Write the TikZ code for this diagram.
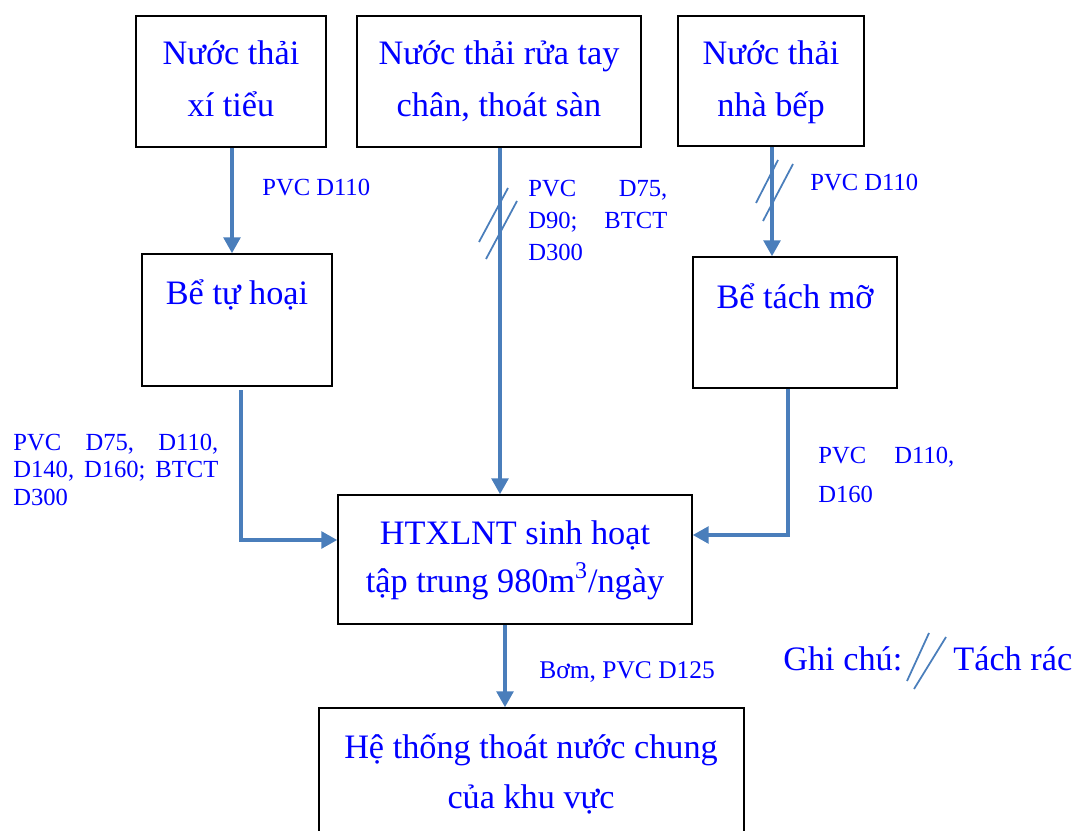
\documentclass[tikz,border=0pt]{standalone}
\usepackage{fontspec}
\setmainfont{Liberation Serif}
\usetikzlibrary{arrows.meta,fit}
\definecolor{pipec}{HTML}{4A7EBB}
\definecolor{txtc}{HTML}{0000FF}
\begin{document}
\begin{tikzpicture}[x=0.02cm,y=-0.02cm,
  box/.style={draw=black,line width=0.9pt,inner sep=0pt},
  big/.style={text=txtc,font=\fontsize{19.5}{29.6}\selectfont,align=center,inner sep=0pt,anchor=base},
  lab/.style={text=txtc,font=\fontsize{14}{18.2}\selectfont,inner sep=0pt,anchor=base west},
  pipeline/.style={draw=pipec,line width=1.9pt},
  arr/.style={pipeline,-{Triangle[length=9pt,width=9.5pt]}},
  slashln/.style={draw=pipec,line width=1pt}
]
\useasboundingbox (0,0) rectangle (1078,831);
\clip (0,0) rectangle (1078,831);

% boxes
\node[box, fit={(136,16) (326,147)}] (b1) {};
\node[box, fit={(357,16) (641,147)}] (b2) {};
\node[box, fit={(678,16) (864,146)}] (b3) {};
\node[box, fit={(142,254) (332,386)}] (b4) {};
\node[box, fit={(693,257) (897,388)}] (b5) {};
\node[box, fit={(338,495) (692,624)}] (b6) {};
\node[box, fit={(319,708) (744,850)}] (b7) {};

% box texts (base = last line)
\node[big] (t1) at (231,117) {Nước thải\\xí tiểu};
\node[big] (t2) at (499,117) {Nước thải rửa tay\\chân, thoát sàn};
\node[big] (t3) at (771,117) {Nước thải\\nhà bếp};
\node[big] (t4) at (237,304) {Bể tự hoại};
\node[big] (t5) at (795,308) {Bể tách mỡ};
\node[big,font=\fontsize{19.5}{27.3}\selectfont] (t6) at (515,592) {HTXLNT sinh hoạt\\tập trung 980m\textsuperscript{3}/ngày};
\node[big,font=\fontsize{19.5}{28.4}\selectfont] (t7) at (531,808) {Hệ thống thoát nước chung\\của khu vực};

% pipe positions
\coordinate (x1) at (232,0);
\coordinate (x2) at (500,0);
\coordinate (x3) at (772,0);
\coordinate (x4) at (241,0);
\coordinate (x5) at (788,0);
\coordinate (x6) at (505,0);
\coordinate (y4) at (0,540);
\coordinate (y5) at (0,535);

\draw[arr] (b1.south -| x1) -- (b4.north -| x1);
\draw[arr] (b2.south -| x2) -- (b6.north -| x2);
\draw[arr] (b3.south -| x3) -- (b5.north -| x3);
\draw[arr,shorten <=2pt] (b4.south -| x4) -- (x4 |- y4) -- (b6.west |- y4);
\draw[arr] (b5.south -| x5) -- (x5 |- y5) -- (b6.east |- y5);
\draw[arr] (b6.south -| x6) -- (b7.north -| x6);

% trash-separation marks
\draw[slashln] (479,242) -- (508,188);
\draw[slashln] (486,259) -- (517,201);
\draw[slashln] (756,203) -- (778,160);
\draw[slashln] (763,221) -- (793,164);

% pipe labels
\node[lab] (l1) at (262,195) {PVC D110};
\node[lab,text width=2.78cm,align=left] (l2) at (528,197) {PVC\hfill D75,\\D90;\hfill BTCT\\D300};
\node[lab] (l3) at (810,191) {PVC D110};
\node[lab,font=\fontsize{14}{15.9}\selectfont,text width=4.1cm,align=left] (l4) at (13,450) {PVC\hfill D75,\hfill D110,\\D140,\hfill D160;\hfill BTCT\\D300};
\node[lab,font=\fontsize{14}{22.2}\selectfont,text width=2.72cm,align=left] (l5) at (818,463) {PVC\hfill D110,\\D160};
\node[lab,font=\fontsize{14.5}{18}\selectfont] (l6) at (539,678) {Bơm, PVC D125};

% legend
\node[big,anchor=base west] (g1) at (783,670) {Ghi chú:};
\draw[slashln] (907,681) -- (929,633);
\draw[slashln] (914,689) -- (946,637);
\node[big,anchor=base west] (g2) at (953,670) {Tách rác};
\end{tikzpicture}
\end{document}
